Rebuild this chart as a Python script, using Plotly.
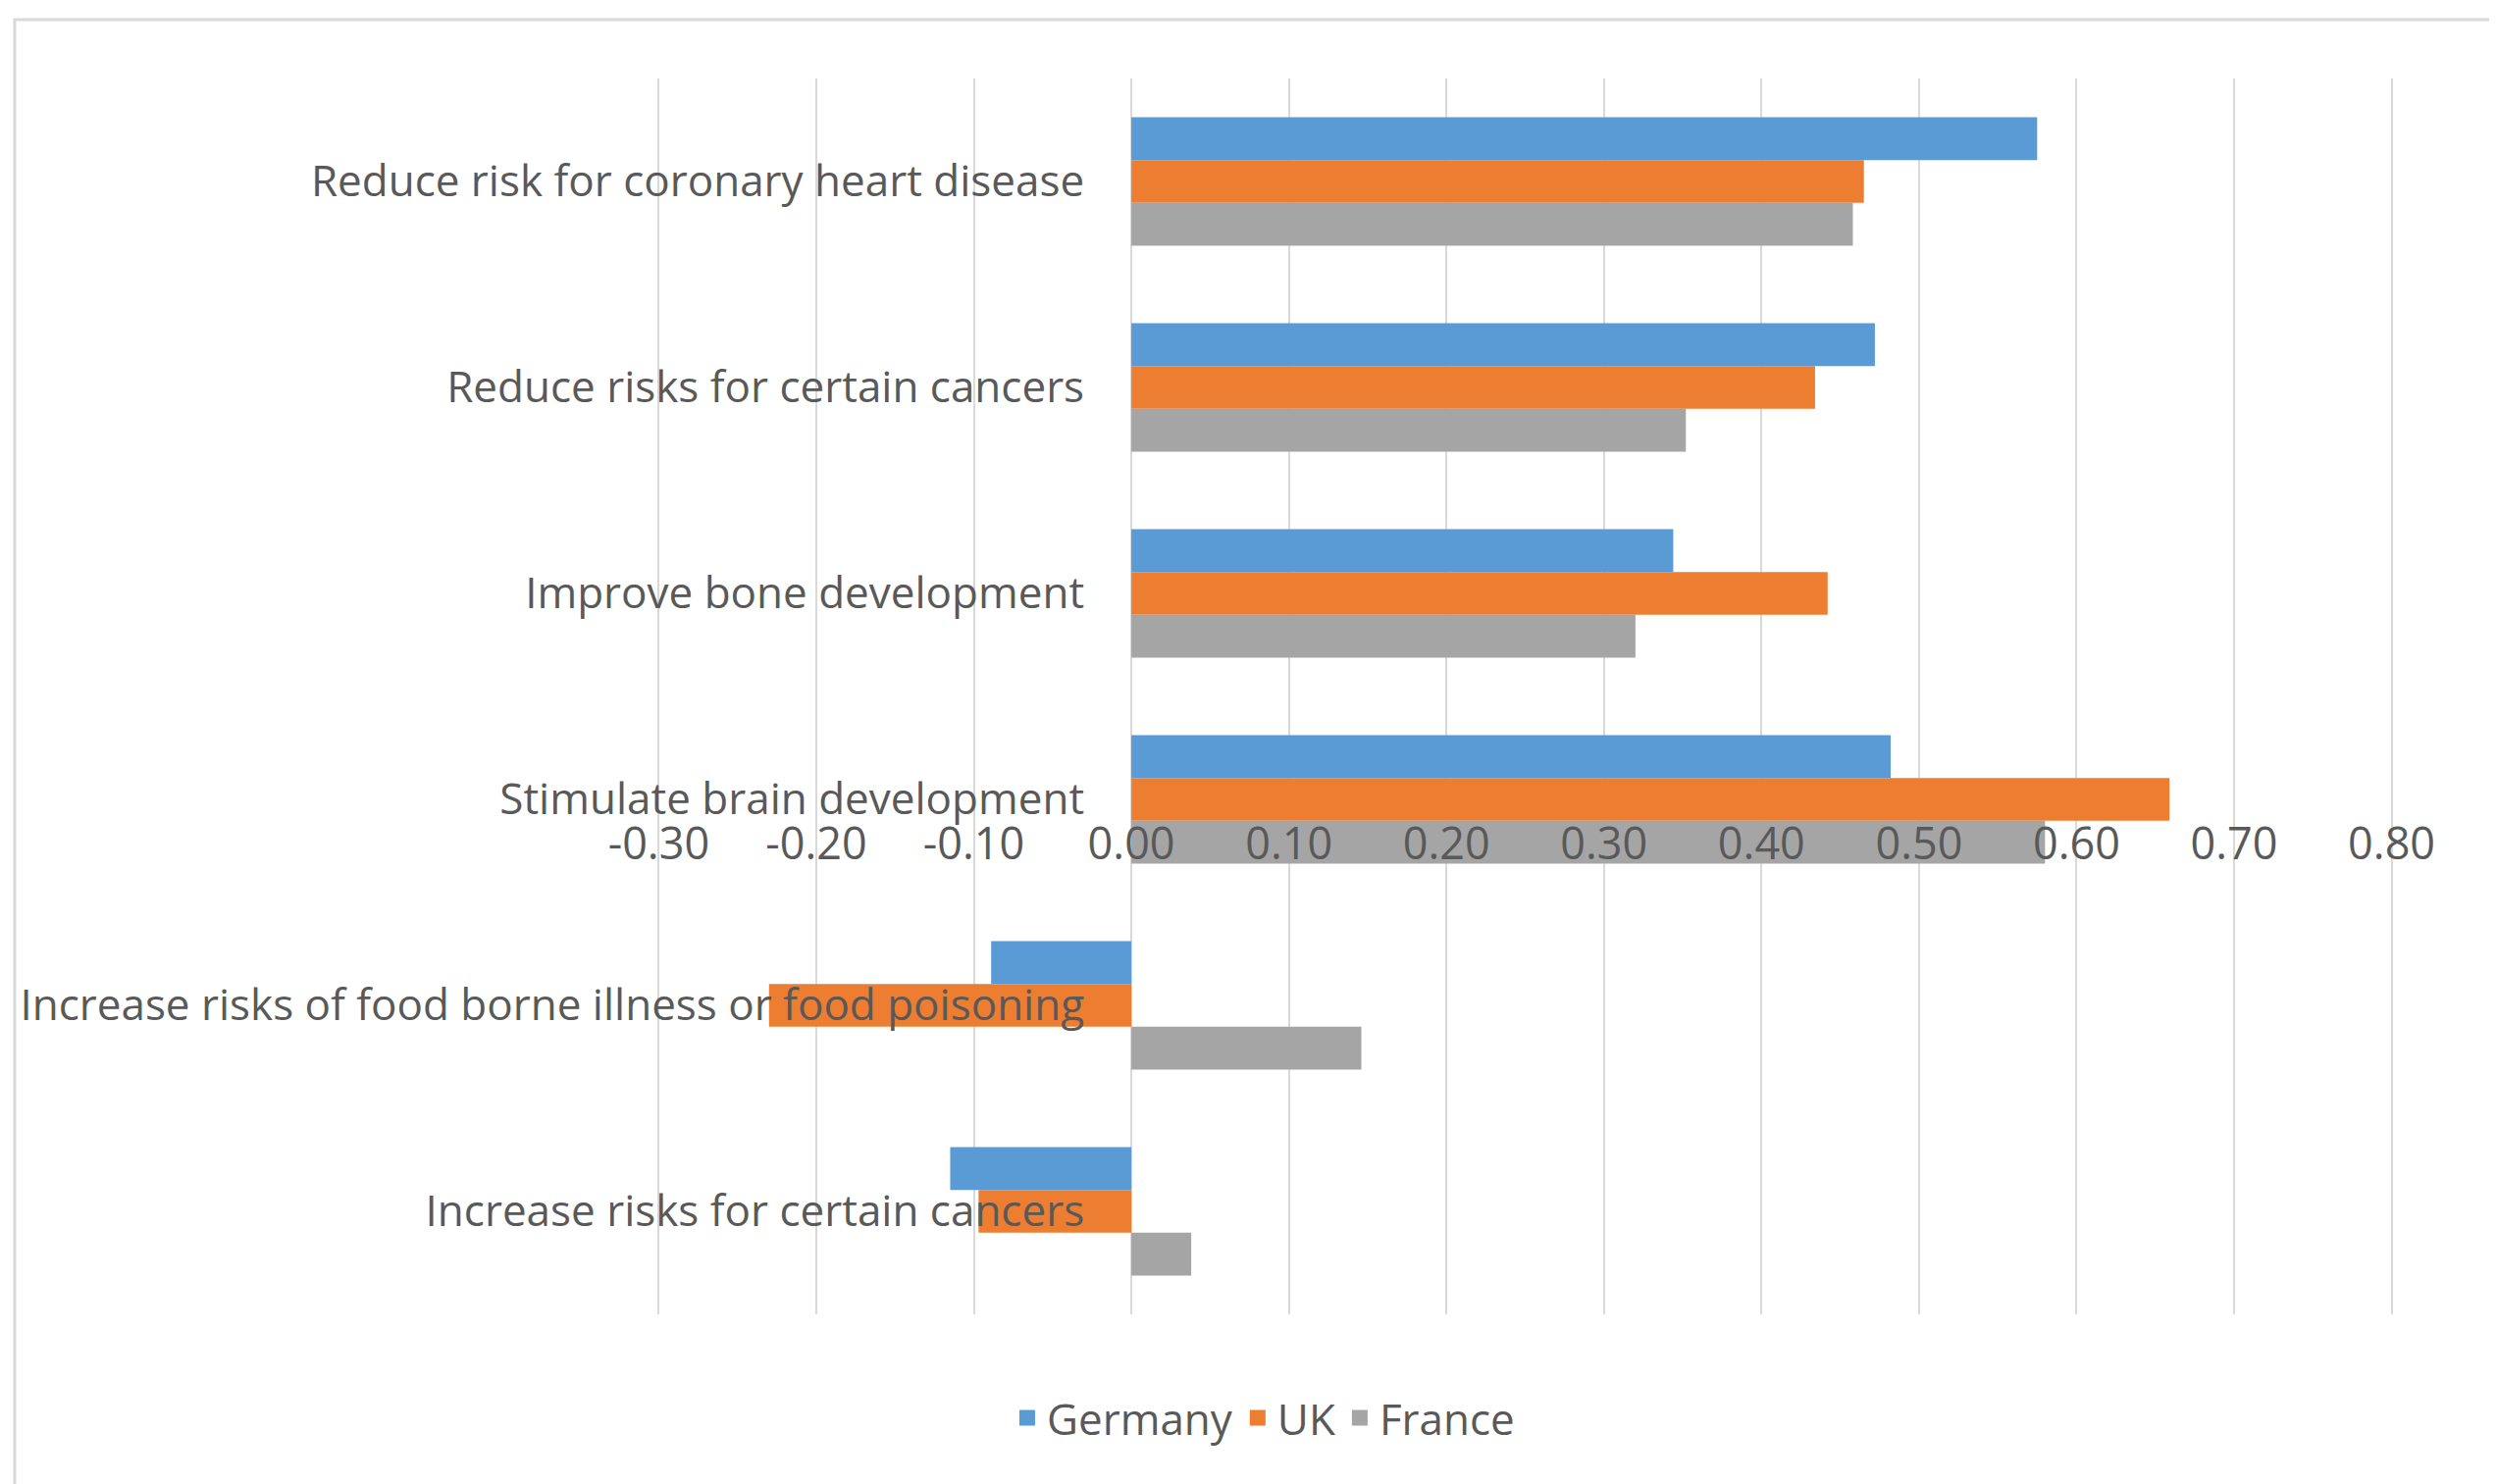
import plotly.graph_objects as go

categories = [
    "Reduce risk for coronary heart disease",
    "Reduce risks for certain cancers",
    "Improve bone development",
    "Stimulate brain development",
    "Increase risks of food borne illness or food poisoning",
    "Increase risks for certain cancers",
]
germany = [0.575, 0.472, 0.344, 0.482, -0.089, -0.115]
uk = [0.465, 0.434, 0.442, 0.659, -0.230, -0.097]
france = [0.458, 0.352, 0.320, 0.580, 0.146, 0.038]

tick_vals = [-0.3, -0.2, -0.1, 0.0, 0.1, 0.2, 0.3, 0.4, 0.5, 0.6, 0.7, 0.8]
tick_labels = ["-0.30", "-0.20", "-0.10", "0.00", "0.10", "0.20", "0.30",
               "0.40", "0.50", "0.60", "0.70", "0.80"]

series = [("Germany", germany, "#5B9BD5"),
          ("UK", uk, "#ED7D31"),
          ("France", france, "#A5A5A5")]

FONT = "Open Sans"
TXT = "#595959"

fig = go.Figure()
for name, vals, col in series:
    fig.add_trace(go.Bar(
        name=name, y=categories, x=vals, orientation="h",
        marker=dict(color=col, line=dict(width=0)),
        legendgroup=name, showlegend=False,
    ))
# legend entries with larger square swatches
for name, vals, col in series:
    fig.add_trace(go.Scatter(
        name=name, x=[None], y=[None], mode="markers",
        marker=dict(symbol="square", size=16, color=col),
        legendgroup=name, showlegend=True,
    ))

fig.update_layout(
    width=2545, height=1513,
    margin=dict(l=661, r=113, t=72, b=181),
    paper_bgcolor="white", plot_bgcolor="white",
    barmode="group", bargap=0.376, bargroupgap=0,
    font=dict(family=FONT, size=44, color=TXT),
    xaxis=dict(
        range=[-0.3015, 0.8015], tickvals=tick_vals, ticktext=tick_labels,
        showgrid=True, gridcolor="#D9D9D9", gridwidth=2,
        zeroline=False, showline=False, ticks="",
        anchor="free", position=0.405,
        tickfont=dict(family=FONT, size=45, color=TXT),
    ),
    yaxis=dict(
        autorange="reversed", showgrid=False, zeroline=False,
        showline=False, ticks="",
        anchor="free", position=0.3015 / 1.103,
        ticklabelstandoff=48,
        tickfont=dict(family=FONT, size=44, color=TXT),
    ),
    legend=dict(
        orientation="h", x=0.3495, xanchor="center",
        y=-0.084, yanchor="middle",
        font=dict(family=FONT, size=44, color=TXT),
        bgcolor="rgba(0,0,0,0)",
        itemwidth=30,
    ),
    shapes=[dict(
        type="rect", xref="paper", yref="paper",
        x0=-0.3693, x1=1.0570, y0=-0.25, y1=1.0476,
        line=dict(color="#D9D9D9", width=3), fillcolor="rgba(0,0,0,0)",
        layer="below",
    )],
)

fig.write_html("out.html")
